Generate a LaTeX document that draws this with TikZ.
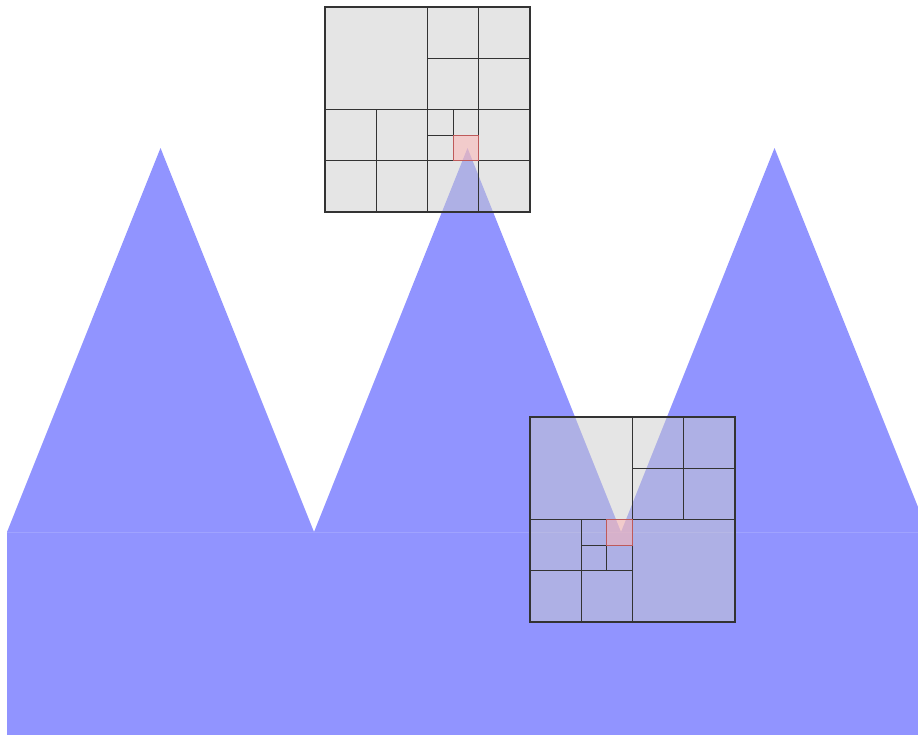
\documentclass[tikz,border=0pt]{standalone}
\usepackage{tikz}
\definecolor{mtblue}{RGB}{145,148,255}
\definecolor{seam}{RGB}{160,163,255}
\definecolor{hotedge}{RGB}{190,90,90}
\tikzset{
  mtn/.style={fill=mtblue, draw=none},
  gridbg/.style={fill=black!20, fill opacity=0.5, draw=none},
  gridln/.style={draw=black!80, line width=0.6pt},
  hot/.style={fill=red!30, fill opacity=0.5, draw=none},
  hotline/.style={draw=hotedge, line width=0.6pt}
}
\begin{document}
\begin{tikzpicture}[x=0.02cm,y=-0.02cm]
\useasboundingbox (0,0) rectangle (918,734);
\begin{scope}
\clip (0,0) rectangle (918,734);
% mountains
\fill[mtn] (7,532) rectangle (930,740);
\fill[mtn] (7,532) -- (160.5,148) -- (314,532) -- cycle;
\fill[mtn] (314,532) -- (467.5,148) -- (621,532) -- cycle;
\fill[mtn] (621,532) -- (774.5,148) -- (928,532) -- cycle;
\draw[seam, line width=0.35pt] (7,532) -- (930,532);
% top grid
\begin{scope}[shift={(325,7)}]
\def\s{51.25}
\fill[gridbg] (0,0) rectangle (4*\s,4*\s);
\fill[hot] (2.5*\s,2.5*\s) rectangle (3*\s,3*\s);
\draw[gridln] (0,0) rectangle (4*\s,4*\s);
\draw[gridln] (2*\s,0) -- (2*\s,4*\s);
\draw[gridln] (0,2*\s) -- (4*\s,2*\s);
\draw[gridln] (3*\s,0) -- (3*\s,4*\s);
\draw[gridln] (2*\s,\s) -- (4*\s,\s);
\draw[gridln] (\s,2*\s) -- (\s,4*\s);
\draw[gridln] (0,3*\s) -- (4*\s,3*\s);
\draw[gridln] (2.5*\s,2*\s) -- (2.5*\s,2.5*\s);
\draw[gridln] (2*\s,2.5*\s) -- (2.5*\s,2.5*\s);
\draw[hotline] (2.5*\s,2.5*\s) rectangle (3*\s,3*\s);
\end{scope}
% bottom grid
\begin{scope}[shift={(530,417)}]
\def\s{51.25}
\fill[gridbg] (0,0) rectangle (4*\s,4*\s);
\fill[hot] (1.5*\s,2*\s) rectangle (2*\s,2.5*\s);
\draw[gridln] (0,0) rectangle (4*\s,4*\s);
\draw[gridln] (2*\s,0) -- (2*\s,4*\s);
\draw[gridln] (0,2*\s) -- (4*\s,2*\s);
\draw[gridln] (3*\s,0) -- (3*\s,2*\s);
\draw[gridln] (2*\s,\s) -- (4*\s,\s);
\draw[gridln] (\s,2*\s) -- (\s,4*\s);
\draw[gridln] (0,3*\s) -- (2*\s,3*\s);
\draw[gridln] (1.5*\s,2*\s) -- (1.5*\s,3*\s);
\draw[gridln] (\s,2.5*\s) -- (2*\s,2.5*\s);
\draw[hotline] (1.5*\s,2*\s) rectangle (2*\s,2.5*\s);
\end{scope}
\end{scope}
\end{tikzpicture}
\end{document}
